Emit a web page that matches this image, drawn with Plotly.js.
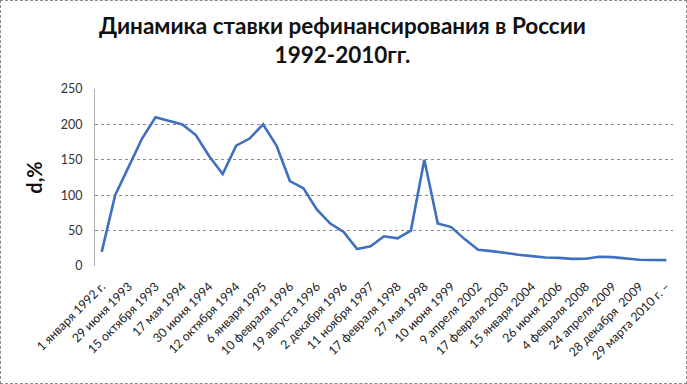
<!DOCTYPE html>
<html>
<head>
<meta charset="utf-8">
<script src="https://cdn.plot.ly/plotly-3.0.1.min.js"></script>
<style>
html,body{margin:0;padding:0;background:#fff;}
#wrap{width:687px;height:384px;box-sizing:border-box;border:1px dashed #8a8a8a;position:relative;overflow:hidden;}
#chart{position:absolute;left:-1px;top:-1px;width:687px;height:384px;}
</style>
</head>
<body>
<div id="wrap"><div id="chart"></div></div>
<script>
const dates = [
  "1 января 1992 г.", "30 марта 1993", "29 июня 1993", "23 сентября 1993", "15 октября 1993",
  "29 апреля 1994", "17 мая 1994", "2 июня 1994", "30 июня 1994", "1 августа 1994",
  "12 октября 1994", "17 ноября 1994", "6 января 1995", "24 октября 1995", "10 февраля 1996",
  "24 июля 1996", "19 августа 1996", "21 октября 1996", "2 декабря 1996", "16 июня 1997",
  "11 ноября 1997", "2 февраля 1998", "17 февраля 1998", "19 мая 1998", "27 мая 1998",
  "5 июня 1998", "10 июня 1999", "7 марта 2000", "9 апреля 2002", "7 августа 2002",
  "17 февраля 2003", "21 июня 2003", "15 января 2004", "26 декабря 2005", "26 июня 2006",
  "19 июня 2007", "4 февраля 2008", "1 декабря 2008", "24 апреля 2009", "13 июля 2009",
  "28 декабря  2009", "24 февраля 2010", "29 марта 2010 г. –"
];
const rates = [
  20, 100, 140, 180, 210,
  205, 200, 185, 155, 130,
  170, 180, 200, 170, 120,
  110, 80, 60, 48, 24,
  28, 42, 39, 50, 150,
  60, 55, 38, 23, 21,
  18, 16, 14, 12, 11.5,
  10, 10.25, 13, 12.5, 11,
  8.75, 8.5, 8.25
];
const tickLabels = [
  "1 января 1992 г.", "29 июня 1993", "15 октября 1993", "17 мая 1994", "30 июня 1994",
  "12 октября 1994", "6 января 1995", "10 февраля 1996", "19 августа 1996", "2 декабря 1996",
  "11 ноября 1997", "17 февраля 1998", "27 мая 1998", "10 июня 1999", "9 апреля 2002",
  "17 февраля 2003", "15 января 2004", "26 июня 2006", "4 февраля 2008", "24 апреля 2009",
  "28 декабря  2009", "29 марта 2010 г. –"
];
const yTicks = [0, 50, 100, 150, 200, 250];
const titleText = '<b>Динамика ставки рефинансирования в России<br>1992-2010гг.</b>';

const trace = {
  x: dates, y: rates, type: 'scatter', mode: 'lines',
  line: {color: '#3f6fc0', width: 2.6},
  hoverinfo: 'x+y'
};
const layout = {
  width: 687, height: 384,
  margin: {l: 95, r: 14, t: 89, b: 118},
  paper_bgcolor: '#fff', plot_bgcolor: '#fff',
  showlegend: false,
  font: {family: 'Lato, "Open Sans", sans-serif', color: '#222'},
  annotations: [{
    text: titleText, xref: 'paper', yref: 'paper',
    x: 0.428, xanchor: 'center', y: 1.277, yanchor: 'middle',
    showarrow: false,
    font: {family: 'Lato, "Open Sans", sans-serif', size: 22.5, color: '#111'}
  }],
  xaxis: {
    type: 'category', categoryorder: 'array', categoryarray: dates,
    range: [-0.5, dates.length - 0.5],
    tickvals: tickLabels, ticktext: tickLabels,
    tickangle: -45, tickfont: {size: 12.3, color: '#222'},
    ticklabelstandoff: 10,
    showgrid: false, zeroline: false,
    showline: false, ticks: '', fixedrange: true
  },
  yaxis: {
    range: [0, 250], tickvals: yTicks, ticktext: yTicks.map(String),
    tickfont: {size: 12.5, color: '#333'},
    showgrid: true, gridcolor: '#8c8c8c', griddash: 'dot', gridwidth: 1,
    zeroline: false, showline: true, linecolor: '#b0b0b0', linewidth: 1,
    ticks: '', ticklabelstandoff: 9,
    title: {text: '<b>d,%</b>', font: {size: 20, color: '#111'}, standoff: 12},
    fixedrange: true
  }
};
Plotly.newPlot('chart', [trace], layout, {displayModeBar: false, staticPlot: true});
</script>
</body>
</html>
